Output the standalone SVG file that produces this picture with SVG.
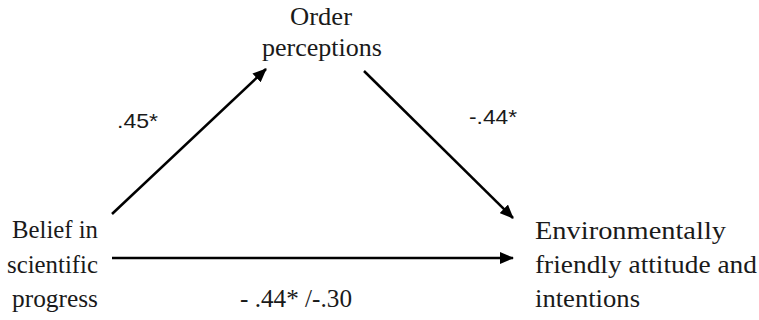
<svg xmlns="http://www.w3.org/2000/svg" width="759" height="320" viewBox="0 0 759 320">
<style>
.conn { stroke: #000; stroke-width: 2.5; fill: none; }
</style>
<defs>
<marker id="arrow" markerUnits="userSpaceOnUse" markerWidth="14" markerHeight="12" refX="13" refY="6" orient="auto">
<path d="M0,0 L14,6 L0,12 Z" fill="#000"/>
</marker>
</defs>
<rect width="759" height="320" fill="#fff"/>
<g id="connectors">
<line class="conn" x1="112" y1="214" x2="266" y2="69" marker-end="url(#arrow)"/>
<line class="conn" x1="364" y1="71" x2="513" y2="218" marker-end="url(#arrow)"/>
<line class="conn" x1="112" y1="258" x2="513" y2="258" marker-end="url(#arrow)"/>
</g>
<g font-family="Liberation Serif" font-size="25" fill="#1a1a1a">
<g id="node-order">
<text x="290" y="25" textLength="62" lengthAdjust="spacingAndGlyphs">Order</text>
<text x="262" y="56" textLength="120" lengthAdjust="spacingAndGlyphs">perceptions</text>
</g>
<g id="node-belief">
<text x="12" y="238" textLength="86" lengthAdjust="spacingAndGlyphs">Belief in</text>
<text x="7" y="273" textLength="91" lengthAdjust="spacingAndGlyphs">scientific</text>
<text x="12" y="307" textLength="86" lengthAdjust="spacingAndGlyphs">progress</text>
</g>
<g id="node-env">
<text x="535" y="239" textLength="191" lengthAdjust="spacingAndGlyphs">Environmentally</text>
<text x="535" y="273" textLength="222" lengthAdjust="spacingAndGlyphs">friendly attitude and</text>
<text x="535" y="307" textLength="105" lengthAdjust="spacingAndGlyphs">intentions</text>
</g>
<g id="labels">
<text x="117" y="128" textLength="41" lengthAdjust="spacingAndGlyphs" font-family="Liberation Sans" font-size="21">.45*</text>
<text x="469" y="124" textLength="48" lengthAdjust="spacingAndGlyphs" font-family="Liberation Sans" font-size="21">-.44*</text>
<text x="240" y="307" textLength="112" lengthAdjust="spacingAndGlyphs">- .44* /-.30</text>
</g>
</g>
</svg>
